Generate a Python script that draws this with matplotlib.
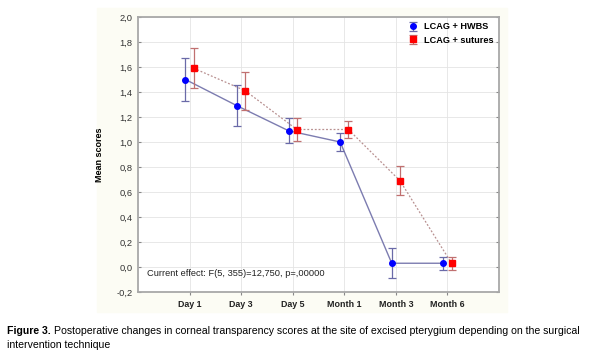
import matplotlib.pyplot as plt
from matplotlib.patches import Rectangle
import numpy as np

# data
times = ["Day 1", "Day 3", "Day 5", "Month 1", "Month 3", "Month 6"]
hwbs_mean = [1.50, 1.29, 1.09, 1.00, 0.03, 0.03]
hwbs_err = [0.17, 0.165, 0.10, 0.07, 0.12, 0.05]
sut_mean = [1.59, 1.41, 1.10, 1.10, 0.69, 0.03]
sut_err = [0.16, 0.15, 0.095, 0.07, 0.115, 0.05]
yticks = [-0.2, 0.0, 0.2, 0.4, 0.6, 0.8, 1.0, 1.2, 1.4, 1.6, 1.8, 2.0]

plt.rcParams["font.family"] = ["Liberation Sans", "DejaVu Sans"]

fig = plt.figure(figsize=(6, 3.59), dpi=100)
# faint cream panel behind the chart
fig.patches.append(Rectangle((97 / 600, 1 - 312 / 359), 410 / 600, 304 / 359,
                             transform=fig.transFigure, color="#fcfcf4", zorder=-5))

ax = fig.add_axes([138 / 600, 1 - 292 / 359, 361 / 600, 275 / 359])
ax.set_facecolor("white")

x = np.arange(len(times))
off = 0.08
ax.plot(x - off, hwbs_mean, color="#7c7cb0", lw=1.0, zorder=2)
ax.plot(x + off, sut_mean, color="#b89090", lw=0.9, ls=(0, (1.5, 1.5)), zorder=2)
h1 = ax.errorbar(x - off, hwbs_mean, yerr=hwbs_err, fmt="o", color="#0000ff", ms=4,
                 ecolor="#6a6aa8", elinewidth=0.9, capsize=3, capthick=0.9,
                 label="LCAG + HWBS", zorder=4)
h2 = ax.errorbar(x + off, sut_mean, yerr=sut_err, fmt="s", color="#ff0000", ms=4,
                 ecolor="#c07070", elinewidth=0.9, capsize=3, capthick=0.9,
                 label="LCAG + sutures", zorder=4)

ax.set_xlim(-1, 6)
ax.set_ylim(-0.2, 2.0)
ax.set_xticks(x)
ax.set_xticklabels(times, fontsize=6.4, fontweight="bold", color="#222222")
ax.set_yticks(yticks)
ax.set_yticklabels([f"{v:.1f}".replace(".", ",") for v in yticks], fontsize=6.7, color="#333333")
ax.tick_params(axis="both", length=2, color="#888888", pad=4)
ax.tick_params(axis="y", right=True, direction="in")
ax.grid(True, color="#e4e4e4", lw=0.6)
ax.set_axisbelow(True)
for s in ax.spines.values():
    s.set_color("#a8a8a8")
    s.set_linewidth(1.3)

ax.set_ylabel("Mean scores", fontsize=6.5, fontweight="bold", labelpad=9)

ax.text(0.024, 0.057, "Current effect: F(5, 355)=12,750, p=,00000", transform=ax.transAxes,
        fontsize=6.7, color="#222222")

leg = ax.legend(handles=[h1, h2], loc="upper right", frameon=False,
                prop={"weight": "bold", "size": 6.6}, handlelength=1.0,
                borderaxespad=0.2, labelspacing=0.45, handletextpad=0.7)

# caption
t1 = fig.text(7 / 600, 1 - 331 / 359, "Figure 3.", fontsize=7.6, fontweight="bold",
              va="center")
fig.canvas.draw()
bb = t1.get_window_extent()
fig.text((bb.x1 + 3) / 600, 1 - 331 / 359,
         "Postoperative changes in corneal transparency scores at the site of excised pterygium depending on the surgical",
         fontsize=7.6, va="center")
fig.text(7 / 600, 1 - 345 / 359, "intervention technique",
         fontsize=7.6, va="center")

fig.savefig("out.png", dpi=100)
